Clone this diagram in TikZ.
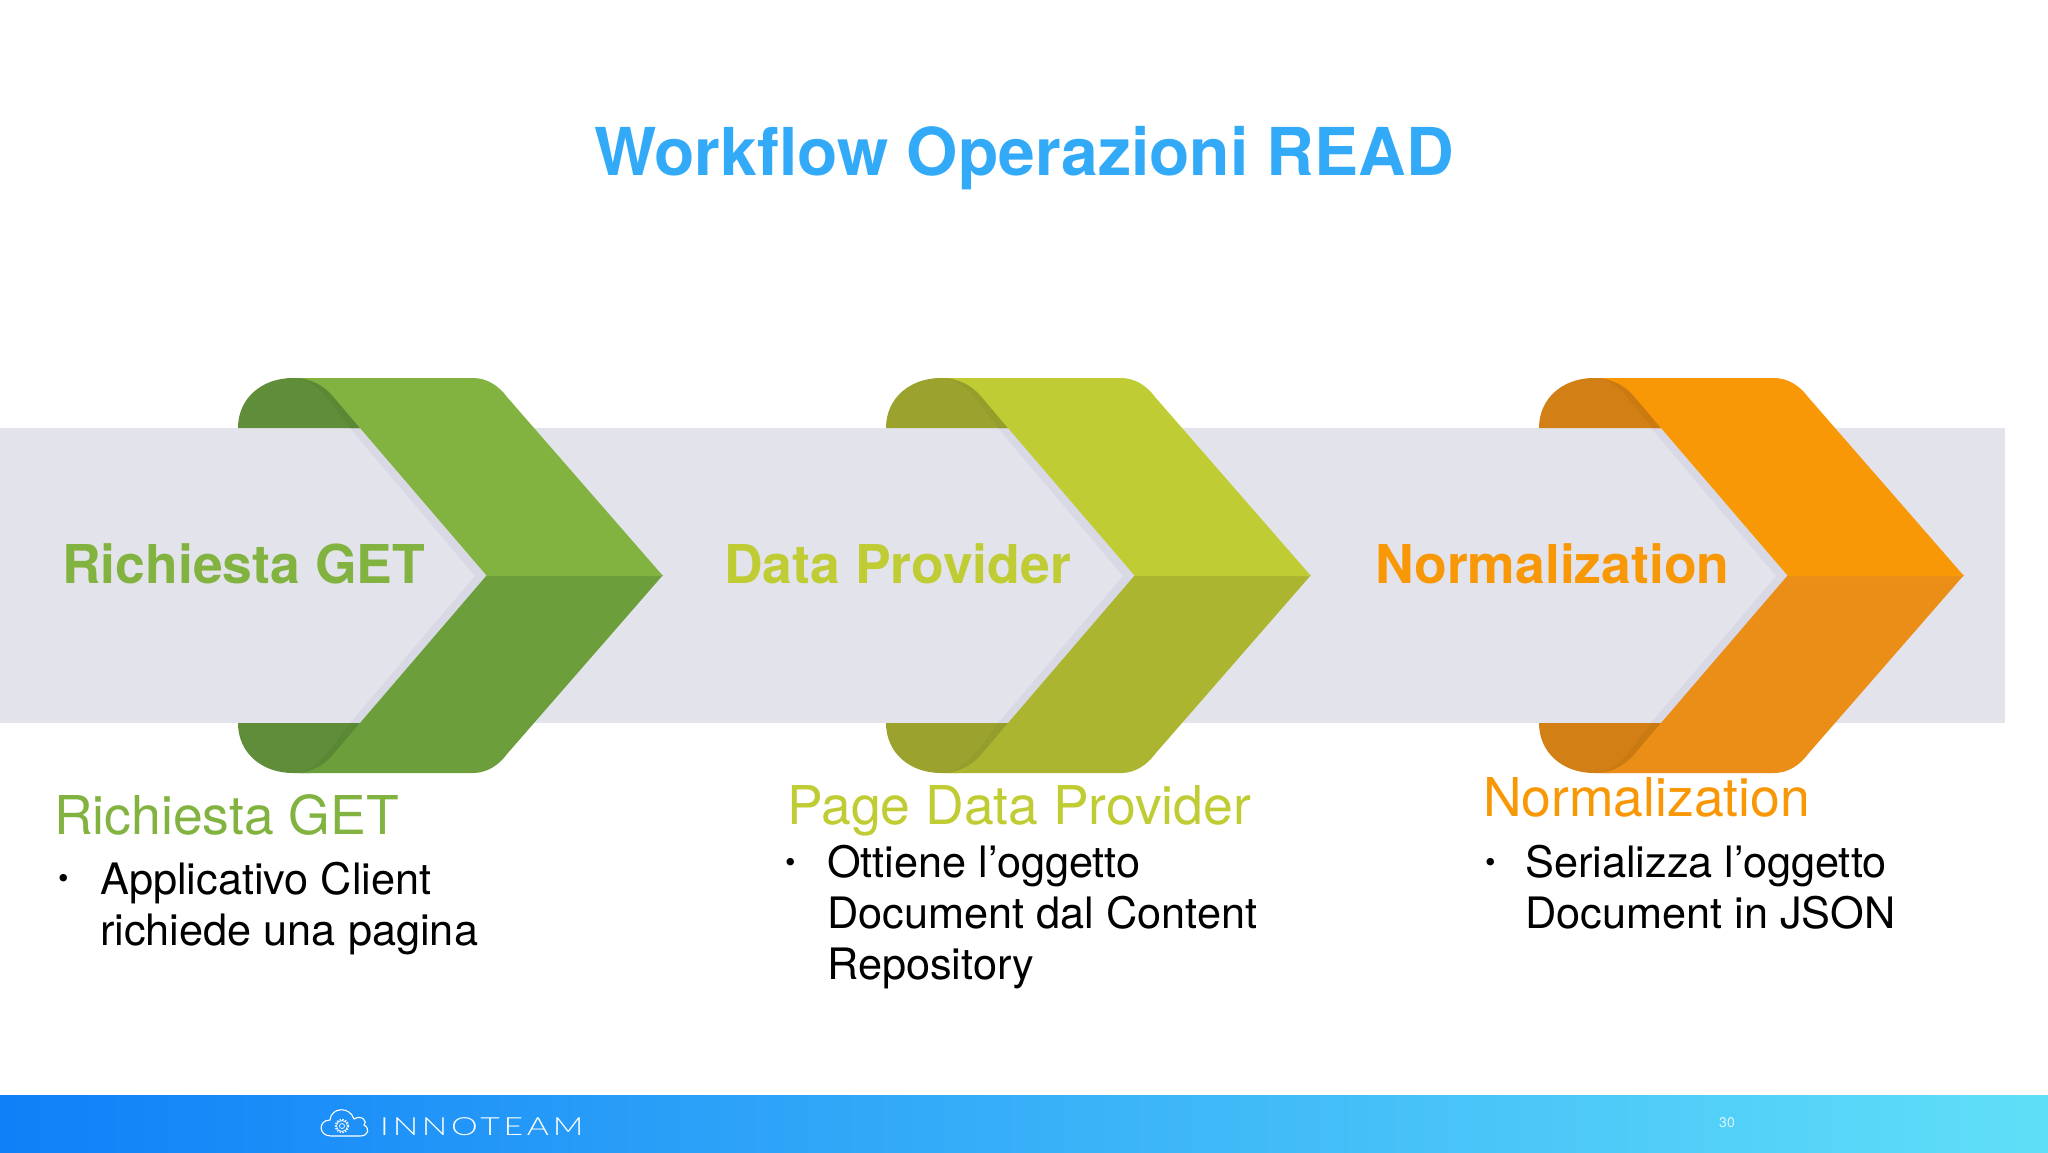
\documentclass[tikz,border=0pt]{standalone}
\usepackage{fontspec}
\setmainfont{TeX Gyre Heros}
\newfontfamily\logofont[LetterSpace=15,FakeStretch=1.35]{Lato Light}
\usetikzlibrary{shadings}
\definecolor{bandc}{HTML}{E3E3EB}
\definecolor{shadowc}{HTML}{D9D9E5}
\definecolor{titlec}{HTML}{33AAF8}
\definecolor{ga}{HTML}{82B341}\definecolor{gb}{HTML}{6C9E3C}\definecolor{gc}{HTML}{5F8D39}\definecolor{gd}{HTML}{5A8935}
\definecolor{la}{HTML}{BFCC33}\definecolor{lb}{HTML}{ABB52F}\definecolor{lc}{HTML}{9BA32E}\definecolor{ld}{HTML}{959D2B}
\definecolor{oa}{HTML}{F99807}\definecolor{ob}{HTML}{EB8E18}\definecolor{oc}{HTML}{D28016}\definecolor{od}{HTML}{CB7A11}
\definecolor{barl}{HTML}{1080F8}\definecolor{barr}{HTML}{60DFF8}
\tikzset{
 bandtext/.style={anchor=base west,inner sep=0pt,font=\fontsize{53.5}{54}\selectfont\bfseries},
 headtext/.style={anchor=base west,inner sep=0pt,font=\fontsize{53.5}{54}\selectfont},
 bodytext/.style={anchor=base west,inner sep=0pt,align=left,text=black,font=\fontsize{43.3}{51}\selectfont},
 bullet/.style={anchor=base west,inner sep=0pt,text=black,font=\fontsize{30}{30}\selectfont},
}
\newcommand{\chevhalf}[4]{%
 \fill[#2] (238,#1{428}) .. controls (238,#1{398}) and (262,#1{378}) .. (293,#1{378}) -- (310,#1{378}) -- (345,#1{385}) -- (360,#1{428}) -- cycle;
 \fill[#3] (300,#1{378}) .. controls (312,#1{380}) and (323,#1{385}) .. (332,#1{395}) -- (360,#1{428}) -- (351,#1{428}) -- (327,#1{398}) .. controls (319,#1{388}) and (310,#1{382}) .. (300,#1{378}) -- cycle;
 \fill[#4] (300,#1{378}) -- (473,#1{378}) .. controls (487,#1{378}) and (499,#1{386}) .. (507,#1{397}) -- (663,#1{576}) -- (487,#1{576}) -- (360,#1{428}) -- (332,#1{395}) .. controls (323,#1{385}) and (312,#1{380}) .. (300,#1{378}) -- cycle;
}
\newcommand{\topy}[1]{#1}
\newcommand{\boty}[1]{\numexpr1151-#1\relax}
\newcommand{\chev}[5]{%
 \begin{scope}[xshift=#1pt]
 \fill[shadowc] (350,428) -- (360,428) -- (487,576) -- (360,723) -- (350,723) -- (475,576) -- cycle;
 \chevhalf{\boty}{#4}{#5}{#3}
 \chevhalf{\topy}{#4}{#5}{#2}
 \end{scope}}
\begin{document}
\begin{tikzpicture}[x=1pt,y=-1pt]
\useasboundingbox (0,0) rectangle (2048,1152);
\fill[white] (0,0) rectangle (2048,1152);
\fill[bandc] (0,428) rectangle (2005,723);
\chev{0}{ga}{gb}{gc}{gd}
\chev{648}{la}{lb}{lc}{ld}
\chev{1301}{oa}{ob}{oc}{od}
\node[inner sep=0pt,anchor=base,text=titlec,font=\fontsize{66}{66}\selectfont\bfseries] (title) at (1024,175) {Workflow Operazioni READ};
\node[bandtext,text=ga] (b1) at (62,583) {Richiesta GET};
\node[bandtext,text=la] (b2) at (724,583) {Data Provider};
\node[bandtext,text=oa] (b3) at (1375,583) {Normalization};
\node[headtext,text=ga] (h1) at (54,834) {Richiesta GET};
\node[headtext,text=la] (h2) at (787,824) {Page Data Provider};
\node[headtext,text=oa] (h3) at (1483,816) {Normalization};
\node[bullet] (d1) at (58,888) {•};
\node[bodytext] (t1) at (100,945) {Applicativo Client\\richiede una pagina};
\node[bullet] (d2) at (785,872) {•};
\node[bodytext] (t2) at (827,979) {Ottiene l’oggetto\\Document dal Content\\Repository};
\node[bullet] (d3) at (1485,872) {•};
\node[bodytext] (t3) at (1525,928) {Serializza l’oggetto\\Document in JSON};
\shade[left color=barl,right color=barr] (0,1095) rectangle (2048,1152);
% logo
\draw[white,line width=1.1pt] (331,1136) .. controls (318,1136) and (318,1120) .. (330,1120) .. controls (331,1107) and (350,1106) .. (354,1119) .. controls (362,1114) and (368,1122) .. (364,1125) .. controls (370,1128) and (369,1136) .. (360,1136) -- cycle;
\draw[white,line width=0.7pt] (342,1126) circle (2.5) (342,1126) circle (5.5);
\draw[white,line width=1.4pt,dash pattern=on 1.4pt off 1.4pt] (342,1126) circle (6.5);
\node[inner sep=0pt,anchor=base west,text=white,font=\fontsize{25}{25}\logofont] (logo) at (380,1135) {INNOTEAM};
\node[inner sep=0pt,anchor=center,text=white,text opacity=0.8,font=\fontsize{14}{14}\selectfont] (page) at (1727,1123) {30};
\end{tikzpicture}
\end{document}
